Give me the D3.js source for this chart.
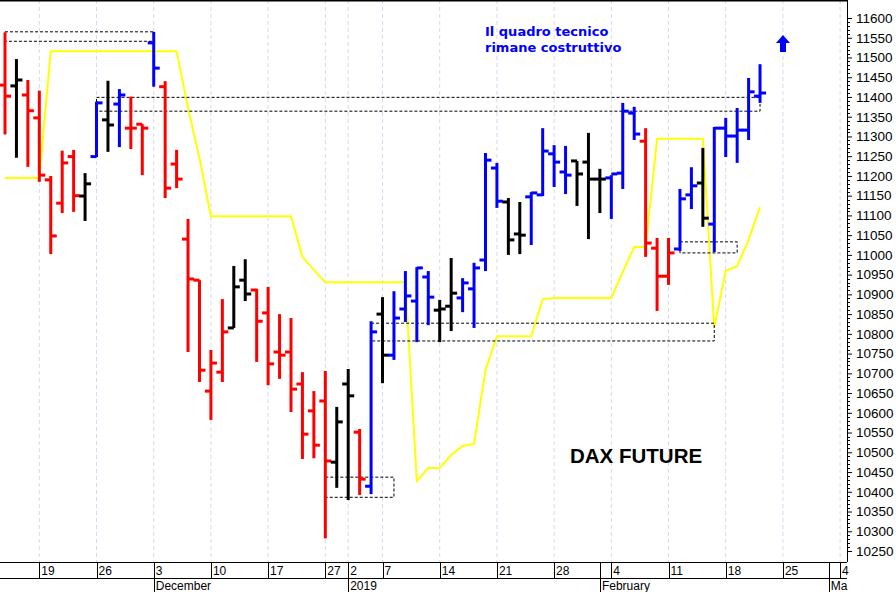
<!DOCTYPE html>
<html><head><meta charset="utf-8">
<script src="https://cdn.jsdelivr.net/npm/d3@7"></script>
<style>body{margin:0;background:#fff}svg{display:block}</style>
</head><body>
<svg id="c" width="896" height="592"></svg>
<script>
// OHLC bars (trading days, index 0 = Nov 14 2018)
const open  = [11430,11428,11405,11347,11190,11131,11249,11149,11249,11342,11382,11321,11331,11537,11426,11230,11040,10936,10655,10703,10815,10936,10911,10853,10754,10754,10673,10605,10630,10475,10673,10551,10414,10850,10746,10863,10883,10944,10860,10870,10891,10914,10987,11220,11134,11053,11147,11152,11256,11210,11238,11235,11192,11195,11207,11359,11288,11017,10946,11015,11152,11182,11078,11321,11301,11316,11402];
const high  = [11563,11496,11443,11416,11200,11264,11266,11207,11388,11441,11420,11401,11331,11565,11440,11266,11091,10936,10759,10888,10972,10989,10914,10919,10850,10840,10703,10655,10706,10615,10711,10559,10832,10893,10908,10959,10969,10959,10886,10992,10941,10980,11258,11233,11144,11134,11159,11321,11278,11276,11238,11309,11218,11202,11385,11375,11321,11043,11043,11167,11222,11271,11324,11347,11372,11448,11483];
const low   = [11305,11246,11223,11185,11002,11106,11109,11086,11248,11261,11273,11268,11202,11426,11144,11169,10754,10678,10582,10678,10815,10883,10729,10670,10686,10602,10483,10485,10282,10410,10379,10392,10394,10675,10734,10830,10779,10822,10779,10807,10855,10815,10959,11119,11000,11002,11025,11149,11172,11154,11124,11040,11106,11091,11167,11291,10995,10858,10924,11010,11116,11071,11007,11248,11233,11291,11385];
const close = [11402,11443,11365,11202,11048,11233,11150,11180,11385,11329,11405,11321,11321,11473,11169,11192,10939,10708,10726,10805,10919,10901,10832,10724,10746,10660,10546,10518,10478,10577,10643,10432,10805,10746,10840,10896,10967,10893,10863,10903,10929,10967,11240,11136,11038,11050,11157,11263,11235,11202,11205,11192,11192,11205,11364,11306,11030,10946,11005,11142,11175,11093,11321,11301,11316,11413,11410];
const barColor = ["r","k","r","r","r","r","r","k","b","k","b","r","r","b","r","r","r","r","r","r","k","k","r","r","r","r","r","r","r","k","k","r","b","k","b","b","b","b","k","k","b","b","b","b","k","k","b","b","b","b","k","k","k","b","b","b","r","r","r","b","b","k","b","b","b","b","b"];
// yellow indicator line
const signal = [11195,11195,11195,11195,11516,11516,11516,11516,11516,11516,11516,11516,11516,11516,11516,11516,11372,11245,11098,11098,11098,11098,11098,11098,11098,11098,10995,10962,10931,10931,10931,10931,10931,10931,10931,10931,10427,10460,10460,10493,10516,10521,10708,10794,10794,10794,10794,10888,10891,10891,10891,10891,10891,10891,10957,11020,11020,11294,11294,11294,11294,11294,10817,10959,10972,11038,11121];
// dashed zones: [startIndex, endIndex, top, bottom]
const zoneStart = [0, 8, 28, 32, 59];
const zoneEnd   = [13, 66, 34, 62, 64];
const zoneTop   = [11565, 11399, 10437, 10827, 11033];
const zoneBot   = [11541, 11364, 10386, 10782, 11005];
// x axis labels
const dayTickIdx   = [3,8,13,18,23,28,30,33,38,43,48,53,58,63,68,73];
const dayTickLabel = ["19","26","3","10","17","27","2","7","14","21","28","4","11","18","25","4"];
const monthIdx   = [13,30,52,72];
const monthLabel = ["December","2019","February","Ma"];
const yTicks = d3.range(10250, 11601, 50);

const svg = d3.select("#c");
const W = 847, H = 562;
const x = d3.scaleLinear().domain([0, 66]).range([5, 5 + 66*11.44]);
const y = d3.scaleLinear().domain([10250, 11600]).range([551, 18]);
const col = {r:"#ff0000", k:"#000000", b:"#0000ff"};

// vertical gridlines
svg.append("g").selectAll("line").data(dayTickIdx).join("line")
  .attr("x1", d => x(d)).attr("x2", d => x(d)).attr("y1", 0).attr("y2", H)
  .attr("stroke", "#d8d8f0").attr("stroke-dasharray", "4,3");

// yellow line
svg.append("path").datum(signal)
  .attr("d", d3.line().x((d,i) => x(i)).y(d => y(d)))
  .attr("fill","none").attr("stroke","#ffff00").attr("stroke-width",2);

// zones
const zi = d3.range(zoneStart.length);
svg.append("g").selectAll("rect").data(zi).join("rect")
  .attr("x", i => x(zoneStart[i])).attr("width", i => x(zoneEnd[i]) - x(zoneStart[i]))
  .attr("y", i => y(zoneTop[i])).attr("height", i => y(zoneBot[i]) - y(zoneTop[i]))
  .attr("fill","none").attr("stroke","#000").attr("stroke-width",1).attr("stroke-dasharray","3,2");

// bars
const bars = svg.append("g").selectAll("g").data(open.map((o,i)=>i)).join("g")
  .attr("stroke", i => col[barColor[i]]).attr("stroke-width", 3);
bars.append("line").attr("x1", i=>x(i)).attr("x2", i=>x(i)).attr("y1", i=>y(high[i])).attr("y2", i=>y(low[i]));
bars.append("line").attr("x1", i=>x(i)-6).attr("x2", i=>x(i)).attr("y1", i=>y(open[i])).attr("y2", i=>y(open[i]));
bars.append("line").attr("x1", i=>x(i)).attr("x2", i=>x(i)+6).attr("y1", i=>y(close[i])).attr("y2", i=>y(close[i]));

// frame
svg.append("line").attr("x1",0).attr("x2",W).attr("y1",0.5).attr("y2",0.5).attr("stroke","#000").attr("stroke-width",2);
svg.append("line").attr("x1",W+0.5).attr("x2",W+0.5).attr("y1",0).attr("y2",H).attr("stroke","#000");

// right axis
const ya = svg.append("g").attr("transform",`translate(${W},0)`)
  .call(d3.axisRight(y).tickValues(yTicks).tickSize(5).tickPadding(4).tickFormat(d3.format("d")));
ya.select(".domain").remove();
ya.selectAll("text").attr("font-family","Liberation Sans, Arial").attr("font-size",13.5).attr("fill","#000");
svg.append("g").selectAll("line").data(d3.range(10250,11610,10).filter(v=>v%50)).join("line")
  .attr("x1",W).attr("x2",W+3).attr("y1",d=>Math.round(y(d))+0.5).attr("y2",d=>Math.round(y(d))+0.5).attr("stroke","#000");

// bottom axis
const bx = svg.append("g");
bx.append("line").attr("x1",0).attr("x2",W).attr("y1",H+0.5).attr("y2",H+0.5).attr("stroke","#000");
bx.append("line").attr("x1",0).attr("x2",W).attr("y1",578.5).attr("y2",578.5).attr("stroke","#000");
const dt = bx.selectAll("g.d").data(dayTickIdx.map((d,i)=>i)).join("g");
dt.append("line").attr("x1",i=>Math.round(x(dayTickIdx[i]))+0.5).attr("x2",i=>Math.round(x(dayTickIdx[i]))+0.5)
  .attr("y1",H).attr("y2",578).attr("stroke","#000");
dt.append("text").attr("x",i=>x(dayTickIdx[i])+2).attr("y",575).text(i=>dayTickLabel[i])
  .attr("font-family","Liberation Sans Narrow, Liberation Sans, Arial").attr("font-size",12);
const mt = bx.selectAll("g.m").data(monthIdx.map((d,i)=>i)).join("g");
mt.append("line").attr("x1",i=>Math.round(x(monthIdx[i]))+0.5).attr("x2",i=>Math.round(x(monthIdx[i]))+0.5)
  .attr("y1",i=> monthIdx[i]===52||monthIdx[i]===72 ? H : 578).attr("y2",592).attr("stroke","#000");
mt.append("text").attr("x",i=>x(monthIdx[i])+2).attr("y",590).text(i=>monthLabel[i])
  .attr("font-family","Liberation Sans Narrow, Liberation Sans, Arial").attr("font-size",12);

// annotations
const t = svg.append("text").attr("font-family","DejaVu Sans").attr("font-weight","bold").attr("font-size",13).attr("fill","#0000ff");
t.append("tspan").attr("x",485).attr("y",36).text("Il quadro tecnico");
t.append("tspan").attr("x",485).attr("y",52).text("rimane costruttivo");
svg.append("text").attr("x",570).attr("y",463).attr("font-family","Liberation Sans, Arial").attr("font-weight","bold")
  .attr("font-size",20.5).text("DAX FUTURE");
svg.append("path").attr("d","M783,35 L790,43 L786,43 L786,52 L780,52 L780,43 L776,43 Z").attr("fill","#0000ff");
</script>
</body></html>
